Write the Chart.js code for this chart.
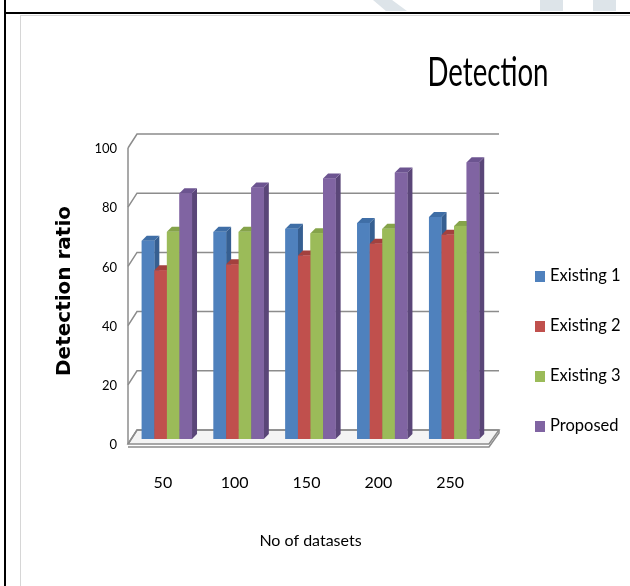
<!DOCTYPE html>
<html>
<head>
<meta charset="utf-8">
<script src="https://cdn.jsdelivr.net/npm/chart.js@4.4.1/dist/chart.umd.min.js"></script>
<style>
  html, body { margin: 0; padding: 0; background: #fff; }
  #page { position: relative; width: 630px; height: 586px; overflow: hidden; background: #fff; }
  .rule { position: absolute; background: #000; }
  .wm { position: absolute; background: #dde4e9; }
  #frame { position: absolute; left: 20px; top: 15px; width: 640px; height: 600px;
           border: 1px solid #d6d6d6; box-sizing: border-box; }
  #chart { position: absolute; left: 0; top: 0; }
  #title { position: absolute; left: 388px; width: 200px; top: 47px; height: 40px; line-height: 40px;
           text-align: center; font: 40px Lato, 'Liberation Sans', sans-serif; color: #000;
           transform: scaleX(0.69); transform-origin: 100px 50%; }
  .lg { position: absolute; left: 535px; height: 20px; line-height: 20px; white-space: nowrap;
        font: 16.5px Lato, 'Liberation Sans', sans-serif; color: #000; }
  .lg i { display: inline-block; width: 10px; height: 11px; margin-right: 5px; vertical-align: -1px; }
</style>
</head>
<body>
<div id="page">
  <div class="wm" style="left:540px;top:0;width:23px;height:11px"></div>
  <div class="wm" style="left:593px;top:0;width:23px;height:11px"></div>
  <div class="wm" style="left:373px;top:0;width:34px;height:11px;clip-path:polygon(0 0,56% 0,100% 100%,38% 100%)"></div>
  <div class="rule" style="left:4px;top:0;width:2px;height:586px"></div>
  <div class="rule" style="left:4px;top:12px;width:626px;height:2px"></div>
  <div id="frame"></div>
  <canvas id="chart" width="630" height="586"></canvas>
  <div id="title">Detection</div>
</div>
<script>
// Detection ratio per dataset size
const categories = ['50', '100', '150', '200', '250'];
const existing1  = [67, 70, 71, 73, 75];
const existing2  = [57, 59, 62, 66, 69];
const existing3  = [70, 70, 69.5, 71, 72];
const proposed   = [83, 85, 88, 90, 93.5];
const seriesNames = ['Existing 1', 'Existing 2', 'Existing 3', 'Proposed'];
const yTicks = [0, 20, 40, 60, 80, 100];

const seriesValues = [existing1, existing2, existing3, proposed];
const faceColors = ['#4f81bd', '#c0504d', '#9bbb59', '#8064a2'];
const sideColors = ['#365f91', '#8e3532', '#6f8a3c', '#5a4678'];
const topColors  = ['#3f6ea6', '#a3413e', '#85a34a', '#6c5490'];
const FAMILY = "Lato, 'Liberation Sans', sans-serif";

// legend rows
seriesNames.forEach((name, i) => {
  const row = document.createElement('div');
  row.className = 'lg';
  row.style.top = (265 + i * 50) + 'px';
  row.innerHTML = '<i style="background:' + faceColors[i] + '"></i>' + name;
  document.getElementById('page').appendChild(row);
});

// back wall, floor and bar depth drawn around the flat bars
const WALL = { fx: -3, fy: 5, bx: 6, by: -9 };
const DEPTH = { dx: 5, dy: 5 };
const box3d = {
  id: 'box3d',
  beforeDatasetsDraw(chart) {
    const { ctx, chartArea: a, scales: { y } } = chart;
    const y0 = y.getPixelForValue(0);
    ctx.save();
    // floor slab
    ctx.fillStyle = '#f4f4f4';
    ctx.strokeStyle = '#8c8c8c';
    ctx.lineWidth = 1.5;
    ctx.beginPath();
    ctx.moveTo(a.left + WALL.fx, y0 + WALL.fy);
    ctx.lineTo(a.right - 1, y0 + WALL.fy);
    ctx.lineTo(a.right + 9, y0 + WALL.by);
    ctx.lineTo(a.left + WALL.bx, y0 + WALL.by);
    ctx.closePath();
    ctx.fill();
    ctx.stroke();
    ctx.beginPath();
    ctx.moveTo(a.left + WALL.fx, y0 + WALL.fy + 3);
    ctx.lineTo(a.right - 1, y0 + WALL.fy + 3);
    ctx.lineTo(a.right + 9, y0 + WALL.by + 3);
    ctx.lineTo(a.right + 9, y0 + WALL.by);
    ctx.stroke();
    // gridlines on the back wall
    yTicks.forEach(v => {
      const py = y.getPixelForValue(v);
      ctx.beginPath();
      ctx.moveTo(a.left + WALL.fx, py + WALL.fy);
      ctx.lineTo(a.left + WALL.bx, py + WALL.by);
      ctx.lineTo(a.right + 9, py + WALL.by);
      ctx.stroke();
    });
    // front value axis
    ctx.beginPath();
    ctx.moveTo(a.left + WALL.fx, y.getPixelForValue(100) + WALL.fy);
    ctx.lineTo(a.left + WALL.fx, y0 + WALL.fy);
    ctx.stroke();
    ctx.restore();
  },
  afterDatasetsDraw(chart) {
    const { ctx } = chart;
    ctx.save();
    categories.forEach((c, j) => {
      seriesValues.forEach((s, i) => {
        const el = chart.getDatasetMeta(i).data[j];
        const { x, y, base, width } = el.getProps(['x', 'y', 'base', 'width'], true);
        const l = x - width / 2, r = x + width / 2;
        ctx.fillStyle = sideColors[i];
        ctx.beginPath();
        ctx.moveTo(r, y); ctx.lineTo(r + DEPTH.dx, y - DEPTH.dy);
        ctx.lineTo(r + DEPTH.dx, base - DEPTH.dy); ctx.lineTo(r, base);
        ctx.closePath(); ctx.fill();
        ctx.fillStyle = topColors[i];
        ctx.beginPath();
        ctx.moveTo(l, y); ctx.lineTo(l + DEPTH.dx, y - DEPTH.dy);
        ctx.lineTo(r + DEPTH.dx, y - DEPTH.dy); ctx.lineTo(r, y);
        ctx.closePath(); ctx.fill();
        ctx.fillStyle = faceColors[i];
        ctx.fillRect(l, y, width, base - y);
      });
    });
    ctx.restore();
  }
};

new Chart(document.getElementById('chart'), {
  type: 'bar',
  data: {
    labels: categories,
    datasets: seriesValues.map((vals, i) => ({
      label: seriesNames[i],
      data: vals,
      backgroundColor: faceColors[i],
      borderWidth: 0
    }))
  },
  plugins: [box3d],
  options: {
    responsive: false,
    animation: false,
    layout: { padding: { left: 50, right: 140, top: 143, bottom: 0 } },
    datasets: { bar: { categoryPercentage: 0.70, barPercentage: 1.0 } },
    plugins: { legend: { display: false }, title: { display: false }, tooltip: { enabled: false } },
    scales: {
      x: {
        grid: { display: false, drawTicks: false },
        border: { display: false },
        ticks: { padding: 34, labelOffset: -4, maxRotation: 0, color: '#000', font: { family: FAMILY, size: 16 } },
        title: { display: true, text: 'No of datasets', color: '#000',
                 font: { family: FAMILY, size: 16 }, padding: { top: 0, bottom: 36 } },
        afterFit(s) { s.height = 147; }
      },
      y: {
        min: 0, max: 100,
        grid: { display: false, drawTicks: false },
        border: { display: false },
        afterBuildTicks(s) { s.ticks = yTicks.map(v => ({ value: v })); },
        ticks: { padding: 14, labelOffset: 6, color: '#000', font: { family: FAMILY, size: 13 } },
        title: { display: true, text: 'Detection ratio', color: '#000',
                 font: { family: "'DejaVu Sans', sans-serif", size: 20, weight: 'bold' }, padding: { top: 3, bottom: 0 } },
        afterFit(s) { s.width = 81; }
      }
    }
  }
});
</script>
</body>
</html>
